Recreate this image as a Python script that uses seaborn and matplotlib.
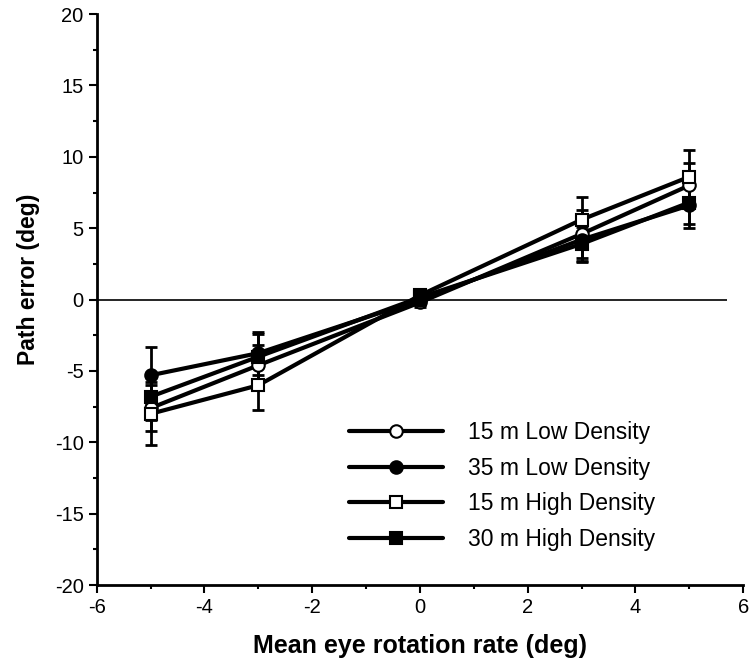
import seaborn as sns
import matplotlib.pyplot as plt
import numpy as np

sns.set_style("ticks")
plt.rcParams['font.family'] = ['Liberation Sans', 'DejaVu Sans']
plt.rcParams['axes.unicode_minus'] = False
plt.rcParams['text.color'] = 'black'
plt.rcParams['axes.labelcolor'] = 'black'
plt.rcParams['xtick.color'] = 'black'
plt.rcParams['ytick.color'] = 'black'

# eye rotation rates (deg) and mean path error (deg) per condition
rates = [-5, -3, 0, 3, 5]
low15 = [-7.6, -4.6, -0.2, 4.6, 8.0]
low35 = [-5.3, -3.75, 0.0, 4.2, 6.6]
high15 = [-8.0, -6.0, 0.3, 5.6, 8.6]
high30 = [-6.8, -4.0, 0.15, 3.9, 6.8]

# standard errors
low15_err = [1.6, 1.4, 0.3, 1.7, 1.6]
low35_err = [2.0, 1.5, 0.3, 1.6, 1.6]
high15_err = [2.2, 1.7, 0.3, 1.6, 1.9]
high30_err = [1.6, 1.6, 0.3, 1.2, 1.5]

labels = ["15 m Low Density", "35 m Low Density", "15 m High Density", "30 m High Density"]
series = [low15, low35, high15, high30]
errors = [low15_err, low35_err, high15_err, high30_err]
markers = ["o", "o", "s", "s"]
faces = ["white", "black", "white", "black"]

fig, ax = plt.subplots(figsize=(7.56, 6.71), dpi=100)
fig.subplots_adjust(left=0.128, right=0.983, top=0.979, bottom=0.128)

ax.hlines(0, -6, 5.7, color="black", lw=1.2, zorder=1)

for vals, err, m, fc, lab in zip(series, errors, markers, faces, labels):
    ax.errorbar(rates, vals, yerr=err, fmt="none", ecolor="black",
                elinewidth=2, capsize=4, capthick=2, zorder=2)
    sns.lineplot(x=rates, y=vals, ax=ax, color="black", lw=3,
                 marker=m, markersize=9, markerfacecolor=fc,
                 markeredgecolor="black", markeredgewidth=1.5,
                 label=lab, zorder=3)

ax.set_xlim(-6, 6)
ax.set_ylim(-20, 20)
ax.set_xticks(np.arange(-6, 7, 2))
ax.set_xticks(np.arange(-5, 6, 2), minor=True)
ax.set_yticks(np.arange(-20, 21, 5))
ax.set_yticks(np.arange(-17.5, 20, 5), minor=True)
ax.tick_params(axis="both", which="major", labelsize=14.5, width=1.5, length=6, color="black")
ax.tick_params(axis="both", which="minor", width=1.5, length=3, color="black")
for s in ["left", "bottom"]:
    ax.spines[s].set_linewidth(2)
    ax.spines[s].set_color("black")
sns.despine(ax=ax)

ax.set_xlabel("Mean eye rotation rate (deg)", fontsize=18, fontweight="bold", labelpad=12)
ax.set_ylabel("Path error (deg)", fontsize=16.5, fontweight="bold")
ax.yaxis.set_label_coords(-0.088, 0.536)

leg = ax.legend(loc="lower left", bbox_to_anchor=(0.39, 0.06), frameon=False,
                borderaxespad=0, borderpad=0,
                fontsize=16.5, handlelength=4.1, handletextpad=1.1, labelspacing=0.55,
                markerscale=1.0)

plt.savefig("out.png", dpi=100)
plt.close()
